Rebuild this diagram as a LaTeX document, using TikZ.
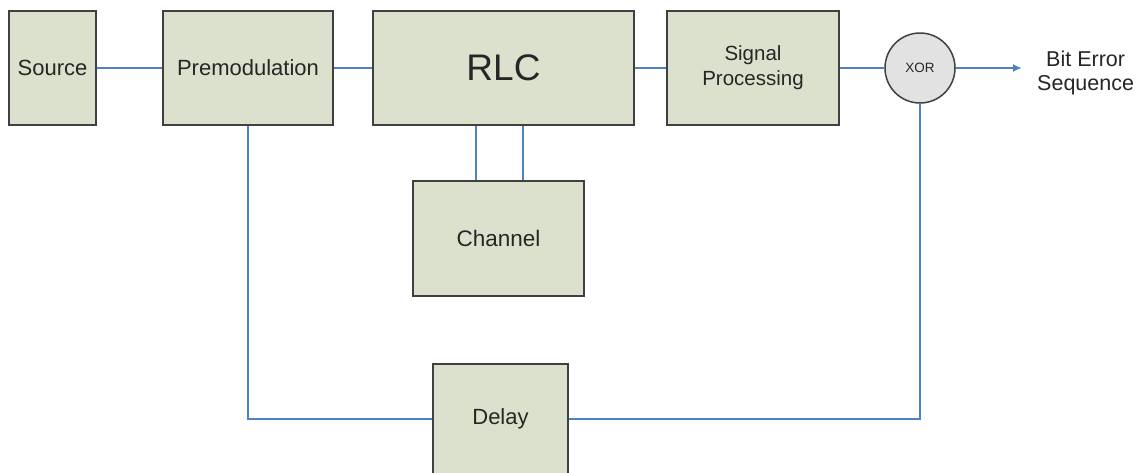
\documentclass[tikz,border=0pt]{standalone}
\usepackage{fontspec}
\setmainfont{Liberation Sans}
\usetikzlibrary{arrows.meta,calc}
\definecolor{boxfill}{RGB}{220,225,205}
\definecolor{boxdraw}{RGB}{64,64,64}
\definecolor{wire}{RGB}{79,129,196}
\definecolor{xorfill}{RGB}{226,226,226}
\begin{document}
\begin{tikzpicture}[x=1pt,y=-1pt,
  blk/.style={draw=boxdraw,fill=boxfill,line width=1.6pt,inner sep=0pt,
    font=\fontsize{22}{25}\selectfont,align=center,text=black!85},
  wirestyle/.style={draw=wire,line width=2.2pt},
  gate/.style={circle,draw=boxdraw,fill=xorfill,line width=1.5pt,inner sep=0pt,
    minimum size=70pt,font=\fontsize{13.5}{15}\selectfont,text=black!85}]
\useasboundingbox (0,0) rectangle (1140,472);
\fill[white] (0,0) rectangle (1140,472);
\node[blk,minimum width=87pt,minimum height=114pt] (src) at (52.5,68) {Source};
\node[blk,minimum width=170pt,minimum height=114pt] (pre) at (248,68) {Premodulation};
\node[blk,minimum width=261pt,minimum height=114pt,font=\fontsize{37}{40}\selectfont] (rlc) at (503.5,68) {RLC};
\node[blk,minimum width=172pt,minimum height=114pt,font=\fontsize{20.5}{25}\selectfont] (sig) at (753,68) {Signal\\Processing};
\node[gate] (xor) at (920,68) {XOR};
\node[blk,minimum width=171pt,minimum height=115pt,font=\fontsize{22.5}{25}\selectfont] (chan) at (498.5,238.5) {Channel};
\node[blk,minimum width=135pt,minimum height=120pt,anchor=north] (del) at (500.5,363) {};
\node[font=\fontsize{22}{25}\selectfont,text=black!85] (dlab) at (500.5,419) {Delay};
\node[font=\fontsize{21.5}{24}\selectfont,align=center,anchor=west,inner xsep=15pt,text=black!85] (out) at (1022,73) {Bit Error\\Sequence};
\draw[wirestyle] (src) -- (pre);
\draw[wirestyle] (pre) -- (rlc);
\draw[wirestyle] (rlc) -- (sig);
\draw[wirestyle] (sig) -- (xor);
\draw[wirestyle,-{Latex[length=9pt,width=8pt]}] (xor) -- (out.west |- xor);
\draw[wirestyle] ([xshift=-22.5pt]chan.north) -- ([xshift=-22.5pt]chan.north |- rlc.south);
\draw[wirestyle] ([xshift=24.5pt]chan.north) -- ([xshift=24.5pt]chan.north |- rlc.south);
\draw[wirestyle] (pre.south) |- (del.west |- dlab);
\draw[wirestyle] (del.east |- dlab) -| (xor.south);
\end{tikzpicture}
\end{document}
